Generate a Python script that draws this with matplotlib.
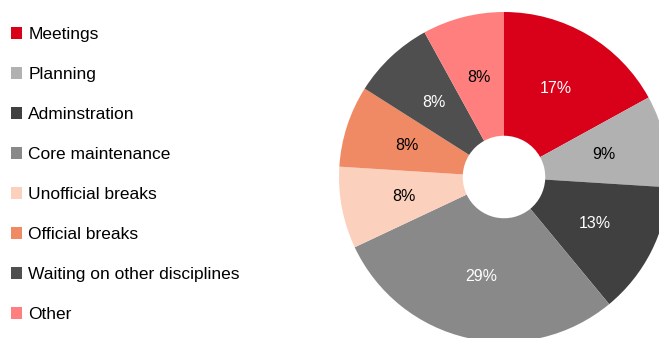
import matplotlib.pyplot as plt

plt.rcParams['font.family'] = ['Liberation Sans', 'DejaVu Sans']

categories = ["Meetings", "Planning", "Adminstration", "Core maintenance",
              "Unofficial breaks", "Official breaks", "Waiting on other disciplines", "Other"]
shares = [17, 9, 13, 29, 8, 8, 8, 8]
colors = ["#d9001a", "#b1b1b1", "#404040", "#898989",
          "#fbd1bd", "#f08a64", "#4f4f4f", "#ff7f7f"]
label_colors = ["white", "black", "white", "white", "black", "black", "white", "black"]

fig = plt.figure(figsize=(6.59, 3.38), dpi=100)

# pie centre ~ (504, 177) px, radius ~165 px
r_px = 165
cx, cy = 504, 177
ax = fig.add_axes([(cx - r_px) / 659, (338 - cy - r_px) / 338, 2 * r_px / 659, 2 * r_px / 338])

wedges, texts, autotexts = ax.pie(
    shares, colors=colors, startangle=90, counterclock=False,
    autopct=lambda p: f"{p:.0f}%", pctdistance=0.62,
    wedgeprops=dict(width=0.75, linewidth=0),
    textprops=dict(fontsize=11.5))
for t, c in zip(autotexts, label_colors):
    t.set_color(c)
ax.set_xlim(-1, 1)
ax.set_ylim(-1, 1)
ax.set_aspect('equal')

leg = fig.legend(wedges, categories, loc='upper left', bbox_to_anchor=(-0.0076, 0.966),
                 frameon=False, fontsize=12.5, handlelength=0.68, handleheight=0.68,
                 handletextpad=0.33, labelspacing=1.435, borderaxespad=0.5)

fig.savefig("out.png", dpi=100)
